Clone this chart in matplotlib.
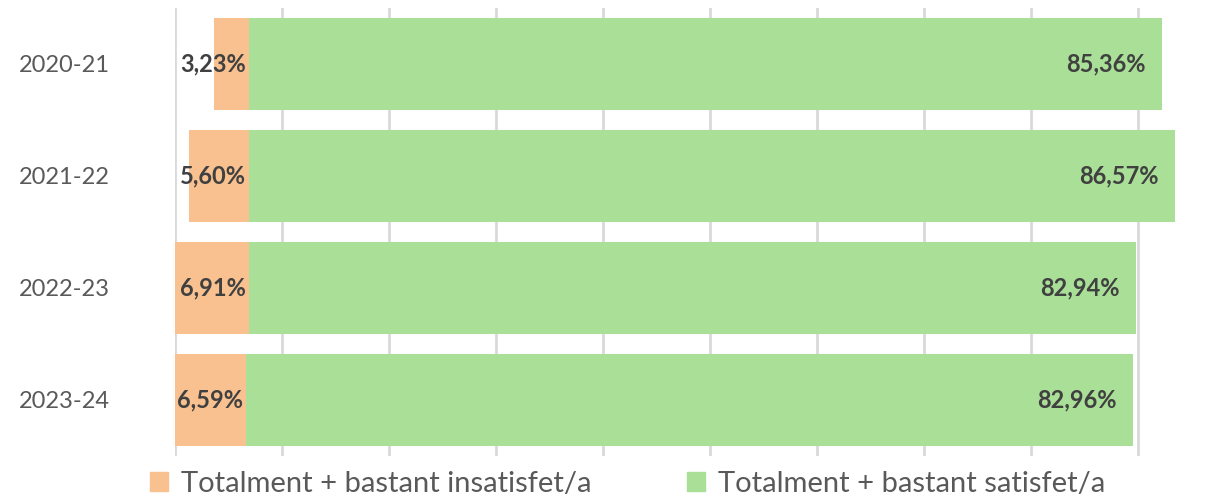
import matplotlib.pyplot as plt
from matplotlib.patches import Patch

plt.rcParams['font.family'] = ['Lato', 'DejaVu Sans']

# survey years, top to bottom
years = ["2020-21", "2021-22", "2022-23", "2023-24"]
insatisfet = [3.23, 5.60, 6.91, 6.59]
satisfet = [85.36, 86.57, 82.94, 82.96]
# invisible helper series that lines up the split point
spacer = [3.68, 1.31, 0.0, 0.0]

orange = "#F8C18F"
green = "#A9DF97"
grid_col = "#D9D9D9"
text_dark = "#404040"
text_grey = "#595959"

W, H = 1225, 499
fig = plt.figure(figsize=(W / 100, H / 100), dpi=100)

# axes: 0% at x=175 px, 10.7 px per percent, rows 112 px apart
px_per = 10.7
x0 = 175
xmax = 98
ax = fig.add_axes([x0 / W, (H - 456) / H, xmax * px_per / W, 448 / H])

ypos = list(range(len(years)))
ax.barh(ypos, spacer, height=0.83, color="none")
ax.barh(ypos, insatisfet, left=spacer, height=0.83, color=orange)
starts = [s + v for s, v in zip(spacer, insatisfet)]
ax.barh(ypos, satisfet, left=starts, height=0.83, color=green)

for i in ypos:
    ax.annotate(f"{insatisfet[i]:.2f}%".replace(".", ","), (starts[i], i),
                xytext=(-3, 0), textcoords="offset pixels",
                ha="right", va="center", fontsize=17, fontweight="bold",
                color=text_dark)
    end = starts[i] + satisfet[i]
    ax.annotate(f"{satisfet[i]:.2f}%".replace(".", ","), (end, i),
                xytext=(-17, 0), textcoords="offset pixels",
                ha="right", va="center", fontsize=17, fontweight="bold",
                color=text_dark)

ax.set_xlim(0, xmax)
ax.set_ylim(len(years) - 0.5, -0.5)
ax.set_xticks(range(0, 100, 10))
ax.set_xticklabels([])
ax.set_yticks(ypos)
ax.set_yticklabels(years, fontsize=17, color=text_grey)
ax.tick_params(length=0)
ax.tick_params(axis="y", pad=47)
ax.grid(axis="x", color=grid_col, linewidth=2)
ax.set_axisbelow(True)
for s in ax.spines.values():
    s.set_visible(False)

handles = [Patch(color=orange, label="Totalment + bastant insatisfet/a"),
           Patch(color=green, label="Totalment + bastant satisfet/a")]
fig.legend(handles=handles, ncol=2, loc="center left",
           bbox_to_anchor=(150 / W, 1 - 484 / H), frameon=False,
           fontsize=21, labelcolor=text_grey, handlelength=0.6,
           handleheight=0.6, handletextpad=0.45, columnspacing=3.3,
           borderpad=0, borderaxespad=0)

fig.savefig("out.png", dpi=100)
